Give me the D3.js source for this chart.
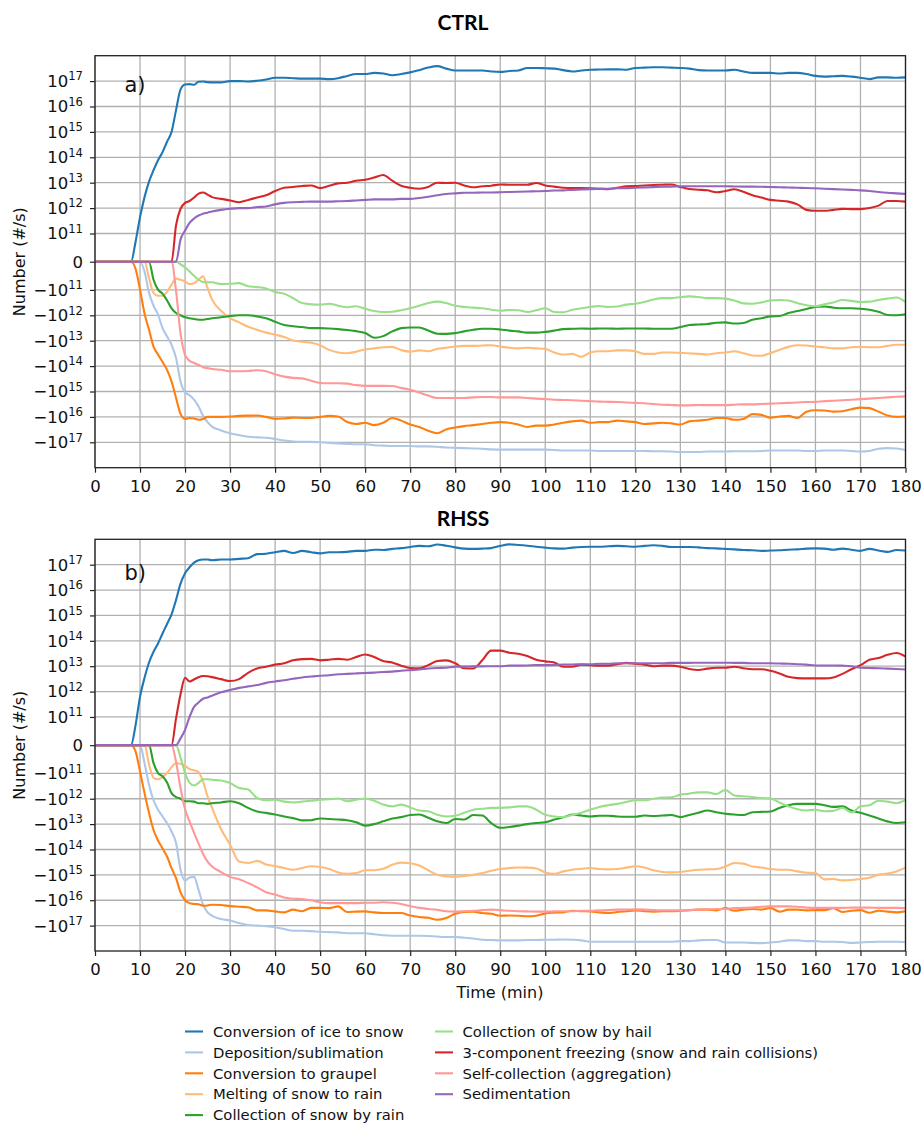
<!DOCTYPE html>
<html>
<head>
<meta charset="utf-8">
<script src="https://cdn.jsdelivr.net/npm/d3@7"></script>
<style>
  html, body { margin: 0; padding: 0; background: #fff; }
  svg { display: block; }
</style>
</head>
<body>
<svg id="chart" width="921" height="1125"></svg>
<script>
// Snow number tendencies (#/s) for the CTRL and RHSS runs, 0-180 min.

const times = [0, 8, 9, 10, 11, 12, 13, 14, 15, 16, 17, 18, 19, 20, 21, 22, 23, 24, 25, 26,
  28, 30, 32, 34, 36, 38, 40, 42, 44, 46, 48, 50, 52, 54, 56, 58, 60, 62, 64, 66, 68, 70, 72, 74, 76, 78, 80,
  82, 84, 86, 88, 90, 92, 94, 96, 98, 100, 102, 104, 106, 108, 110, 112, 114, 116, 118, 120,
  122, 124, 126, 128, 130, 132, 134, 136, 138, 140, 142, 144, 146, 148, 150, 152, 154, 156, 158, 160,
  162, 164, 166, 168, 170, 172, 174, 176, 178, 180];

const seriesNames = [
  "Conversion of ice to snow",
  "Deposition/sublimation",
  "Conversion to graupel",
  "Melting of snow to rain",
  "Collection of snow by rain",
  "Collection of snow by hail",
  "3-component freezing (snow and rain collisions)",
  "Self-collection (aggregation)",
  "Sedimentation"
];

const seriesColors = ["#1f77b4", "#aec7e8", "#ff7f0e", "#ffbb78", "#2ca02c", "#98df8a", "#d62728", "#ff9896", "#9467bd"];

const xTicks = [0, 10, 20, 30, 40, 50, 60, 70, 80, 90, 100, 110, 120, 130, 140, 150, 160, 170, 180];
const yTicks = [1e17, 1e16, 1e15, 1e14, 1e13, 1e12, 1e11, 0, -1e11, -1e12, -1e13, -1e14, -1e15, -1e16, -1e17];

// ---------- CTRL ----------
const ctrlIceToSnow = [0, 0, 7e10, 4.4e11, 2.7e12, 1.1e13, 3.1e13, 7.6e13, 1.6e14, 4.1e14, 1e15, 7.2e15, 4.7e16, 7.4e16, 7.6e16, 7.2e16, 9.4e16, 9.6e16, 9.1e16, 8.9e16,
  8.9e16, 1.0e17, 1.0e17, 9.7e16, 1.03e17, 1.15e17, 1.35e17, 1.35e17, 1.3e17, 1.25e17, 1.25e17, 1.25e17, 1.2e17, 1.3e17, 1.6e17, 1.9e17, 1.9e17, 2.1e17, 2.0e17, 1.7e17, 1.9e17, 2.2e17, 2.7e17, 3.4e17, 3.9e17, 3.1e17, 2.6e17,
  2.6e17, 2.6e17, 2.6e17, 2.4e17, 2.3e17, 2.5e17, 2.6e17, 3.3e17, 3.3e17, 3.2e17,
  3.1e17, 2.7e17, 2.4e17, 2.6e17, 2.8e17, 2.85e17, 2.9e17, 2.9e17, 2.8e17, 3.3e17,
  3.4e17, 3.5e17, 3.5e17, 3.4e17, 3.3e17, 3.1e17, 2.7e17, 2.6e17, 2.6e17, 2.6e17,
  2.8e17, 2.4e17, 2.1e17, 2.1e17, 2.1e17, 2.0e17, 2.1e17, 2.1e17, 1.9e17, 1.6e17,
  1.5e17, 1.55e17, 1.6e17, 1.5e17, 1.35e17, 1.2e17, 1.4e17, 1.4e17, 1.35e17, 1.4e17];

const ctrlDeposition = [0, 0, 0, 0, -3.5e10, -1.3e11, -4.2e11, -9.4e11, -3.2e12, -6.8e12, -1.45e13, -4.8e13, -4.1e14, -1.07e15, -1.4e15, -2.1e15, -3.9e15, -9.1e15, -1.6e16, -2.4e16,
  -3.4e16, -4.4e16, -5.2e16, -6e16, -6.4e16, -6.6e16, -7.4e16, -8.5e16, -9.3e16, -9.6e16, -9.6e16, -1.0e17, -1.05e17, -1.1e17, -1.15e17, -1.2e17, -1.2e17, -1.3e17, -1.35e17, -1.4e17, -1.4e17, -1.4e17, -1.45e17, -1.45e17, -1.5e17, -1.6e17, -1.65e17,
  -1.7e17, -1.75e17, -1.8e17, -1.9e17, -1.95e17, -1.95e17, -1.95e17, -1.95e17, -1.95e17, -1.95e17,
  -2.0e17, -2.1e17, -2.1e17, -2.1e17, -2.1e17, -2.2e17, -2.2e17, -2.2e17, -2.2e17, -2.2e17,
  -2.2e17, -2.25e17, -2.25e17, -2.3e17, -2.4e17, -2.4e17, -2.4e17, -2.3e17, -2.3e17, -2.3e17,
  -2.25e17, -2.25e17, -2.25e17, -2.2e17, -2.1e17, -2.1e17, -2.1e17, -2.1e17, -2.2e17, -2.2e17,
  -2.1e17, -2.1e17, -2.1e17, -2.2e17, -2.3e17, -2.2e17, -1.8e17, -1.7e17, -1.75e17, -2.0e17];

const ctrlGraupel = [0, 0, -2.5e10, -9.9e10, -8.5e11, -3.7e12, -1.7e13, -3.5e13, -6.9e13, -1.4e14, -4e14, -1.8e15, -7.6e15, -1.2e16, -1.1e16, -1.15e16, -1.3e16, -1.2e16, -1.0e16, -1.0e16,
  -1.0e16, -9.7e15, -9.1e15, -8.9e15, -8.8e15, -1.0e16, -1.2e16, -1.15e16, -1.07e16, -1.1e16, -1.1e16, -1.0e16, -9.1e15, -9.7e15, -1.6e16, -1.9e16, -1.7e16, -2.1e16, -1.7e16, -1.1e16, -1.4e16, -2.0e16, -2.5e16, -3.5e16, -4.4e16, -3.1e16, -2.6e16,
  -2.3e16, -2.1e16, -1.9e16, -1.7e16, -1.6e16, -1.7e16, -2.0e16, -2.5e16, -2.2e16, -2.2e16,
  -2.0e16, -1.7e16, -1.5e16, -1.4e16, -1.7e16, -1.6e16, -1.6e16, -1.4e16, -1.5e16, -1.6e16,
  -1.9e16, -1.8e16, -1.7e16, -1.8e16, -2.0e16, -1.5e16, -1.4e16, -1.3e16, -1.1e16, -1.1e16,
  -1.3e16, -1.2e16, -7.8e15, -8.3e15, -1.07e16, -9.7e15, -9.1e15, -1.1e16, -6.2e15, -5.5e15,
  -5.6e15, -6.2e15, -6.0e15, -5.0e15, -4.3e15, -4.5e15, -6.2e15, -8.8e15, -1.0e16, -9.7e15];

const ctrlMelting = [0, 0, 0, 0, 0, -5.8e10, -1.3e11, -1.7e11, -1.7e11, -1.2e11, -8.1e10, -6.0e10, -6.4e10, -7.0e10, -7.9e10, -7.6e10, -6.4e10, -5.2e10, -9.3e10, -2.4e11,
  -6.6e11, -1.3e12, -1.9e12, -2.8e12, -3.7e12, -4.8e12, -5.8e12, -7.2e12, -9.8e12, -1.1e13, -1.2e13, -1.5e13, -2.3e13, -2.9e13, -3.1e13, -2.7e13, -2.2e13, -2.0e13, -1.8e13, -1.75e13, -2.35e13, -2.7e13, -2.4e13, -2.6e13, -2.1e13, -1.9e13, -1.7e13,
  -1.6e13, -1.6e13, -1.55e13, -1.5e13, -1.7e13, -1.9e13, -2.0e13, -1.9e13, -2.0e13, -2.1e13,
  -2.9e13, -3.5e13, -3.3e13, -4.3e13, -2.9e13, -2.6e13, -2.6e13, -2.4e13, -2.4e13, -2.6e13,
  -3.3e13, -3.3e13, -2.9e13, -2.9e13, -3.0e13, -3.1e13, -3.3e13, -3.5e13, -3.1e13, -2.9e13,
  -2.6e13, -3.1e13, -3.8e13, -3.9e13, -3.1e13, -2.3e13, -1.75e13, -1.5e13, -1.55e13, -1.7e13,
  -1.8e13, -2.0e13, -2.0e13, -1.8e13, -1.75e13, -1.8e13, -1.8e13, -1.6e13, -1.45e13, -1.45e13];

const ctrlRainCollection = [0, 0, 0, 0, 0, 0, -6.4e10, -9.9e10, -1.4e11, -2.6e11, -5.3e11, -8.1e11, -1.0e12, -1.2e12, -1.3e12, -1.4e12, -1.5e12, -1.5e12, -1.4e12, -1.3e12,
  -1.2e12, -1.07e12, -1.0e12, -1.0e12, -1.1e12, -1.3e12, -1.8e12, -2.4e12, -2.7e12, -2.9e12, -3.2e12, -3.2e12, -3.3e12, -3.5e12, -3.8e12, -4.2e12, -5e12, -7.6e12, -6.6e12, -4.3e12, -3.2e12, -3.0e12, -3.0e12, -4.0e12, -5.3e12, -5.4e12, -5.0e12,
  -4.3e12, -3.7e12, -3.4e12, -3.4e12, -3.6e12, -4.0e12, -4.3e12, -4.8e12, -4.8e12, -4.5e12,
  -4.0e12, -3.5e12, -3.4e12, -3.3e12, -3.4e12, -3.3e12, -3.3e12, -3.4e12, -3.3e12, -3.3e12,
  -3.3e12, -3.4e12, -3.4e12, -3.4e12, -2.9e12, -2.4e12, -2.3e12, -2.2e12, -1.95e12, -1.9e12,
  -2.1e12, -2.0e12, -1.5e12, -1.3e12, -1.1e12, -1.07e12, -8.1e11, -6.8e11, -5.6e11, -4.7e11,
  -4.5e11, -5.0e11, -5.3e11, -5.3e11, -5.5e11, -6e11, -7.2e11, -9.7e11, -1.0e12, -9.1e11];

const ctrlHailCollection = [0, 0, 0, 0, 0, 0, 0, 0, 0, 0, 0, 0, -9e9, -2e10, -3.5e10, -5e10, -6.4e10, -7.2e10, -7.3e10, -7.3e10,
  -7.9e10, -7.8e10, -7.6e10, -8.7e10, -9e10, -9.5e10, -1.2e11, -1.4e11, -2.1e11, -3.3e11, -3.7e11, -3.8e11, -3.5e11, -4.2e11, -4.8e11, -4.4e11, -5.5e11, -6.8e11, -7.4e11, -7.2e11, -6.3e11, -5.3e11, -4.2e11, -3.3e11, -2.9e11, -3.3e11, -4.2e11,
  -4.7e11, -5.0e11, -5.3e11, -6e11, -6.6e11, -6.2e11, -6.3e11, -7.4e11, -6.3e11, -5.3e11,
  -7.4e11, -7.6e11, -6e11, -5.3e11, -4.7e11, -4.3e11, -4.7e11, -4.5e11, -3.8e11, -3.5e11,
  -3.0e11, -2.4e11, -2.1e11, -2.1e11, -1.9e11, -1.8e11, -1.9e11, -2.1e11, -2.1e11, -2.2e11,
  -2.6e11, -3.4e11, -3.5e11, -3.1e11, -2.6e11, -2.5e11, -2.6e11, -3.3e11, -4.0e11, -4.4e11,
  -3.7e11, -3.1e11, -2.5e11, -2.7e11, -3.0e11, -2.9e11, -2.5e11, -2.2e11, -2.0e11, -3.0e11];

const ctrlFreezing = [0, 0, 0, 0, 0, 0, 0, 0, 0, 0, 0, 2.1e11, 9.4e11, 1.6e12, 1.9e12, 2.6e12, 3.7e12, 4.1e12, 3.4e12, 2.7e12,
  2.3e12, 2.0e12, 1.7e12, 2.1e12, 2.6e12, 3.2e12, 4.7e12, 6.3e12, 6.8e12, 7.4e12, 7.8e12, 6.1e12, 7.6e12, 9.4e12, 1.0e13, 1.2e13, 1.3e13, 1.6e13, 2.0e13, 1.2e13, 7.6e12, 6.3e12, 5.8e12, 6.8e12, 1.0e13, 9.7e12, 1.0e13,
  7.8e12, 6.6e12, 7.2e12, 7.6e12, 8.5e12, 8.3e12, 8.3e12, 8.3e12, 9.7e12, 7.8e12,
  7.0e12, 6.3e12, 6.1e12, 6.1e12, 6.0e12, 5.8e12, 5.6e12, 6.3e12, 7.2e12, 7.4e12,
  7.8e12, 8.1e12, 8.3e12, 8.5e12, 6.8e12, 5.6e12, 5.3e12, 5.0e12, 4.2e12, 4.7e12,
  5.5e12, 4.4e12, 3.2e12, 2.6e12, 2.1e12, 1.95e12, 1.8e12, 1.4e12, 8.5e11, 7.8e11,
  7.8e11, 8.5e11, 9.3e11, 9.1e11, 9.1e11, 1.0e12, 1.25e12, 1.9e12, 1.9e12, 1.8e12];

const ctrlAggregation = [0, 0, 0, 0, 0, 0, 0, 0, 0, 0, 0, -1.1e11, -5.3e12, -3.6e13, -6.2e13, -7.6e13, -8.9e13, -1.1e14, -1.2e14, -1.3e14,
  -1.4e14, -1.6e14, -1.6e14, -1.55e14, -1.45e14, -1.6e14, -2.1e14, -2.6e14, -2.9e14, -3.05e14, -3.8e14, -4.6e14, -4.7e14, -4.7e14, -4.9e14, -5.6e14, -6e14, -6e14, -6e14, -6.1e14, -7.2e14, -8.6e14, -1.1e15, -1.45e15, -1.8e15, -1.8e15, -1.8e15,
  -1.8e15, -1.7e15, -1.65e15, -1.65e15, -1.7e15, -1.7e15, -1.7e15, -1.8e15, -1.9e15, -2.0e15,
  -2.1e15, -2.15e15, -2.2e15, -2.3e15, -2.4e15, -2.5e15, -2.55e15, -2.6e15, -2.7e15, -2.8e15,
  -2.9e15, -3.1e15, -3.3e15, -3.4e15, -3.5e15, -3.5e15, -3.4e15, -3.45e15, -3.45e15, -3.45e15,
  -3.3e15, -3.2e15, -3.2e15, -3.1e15, -3.0e15, -2.9e15, -2.8e15, -2.7e15, -2.6e15, -2.55e15,
  -2.4e15, -2.3e15, -2.2e15, -2.1e15, -2.0e15, -1.9e15, -1.8e15, -1.7e15, -1.6e15, -1.55e15];

const ctrlSedimentation = [0, 0, 0, 0, 0, 0, 0, 0, 0, 0, 0, 0, 7.9e10, 1.3e11, 2.6e11, 3.9e11, 5.1e11, 6.0e11, 6.6e11, 7.4e11,
  8.5e11, 9.4e11, 1.0e12, 1.0e12, 1.1e12, 1.15e12, 1.4e12, 1.6e12, 1.7e12, 1.75e12, 1.8e12, 1.8e12, 1.8e12, 1.85e12, 1.9e12, 2.0e12, 2.1e12, 2.2e12, 2.2e12, 2.2e12, 2.3e12, 2.3e12, 2.5e12, 2.8e12, 3.2e12, 3.6e12, 3.8e12,
  4.0e12, 4.0e12, 4.1e12, 4.1e12, 4.2e12, 4.3e12, 4.4e12, 4.5e12, 4.6e12, 4.7e12,
  4.9e12, 5.0e12, 5.2e12, 5.4e12, 5.6e12, 5.7e12, 5.8e12, 6.0e12, 6.1e12, 6.3e12,
  6.5e12, 6.7e12, 6.9e12, 7.0e12, 7.2e12, 7.2e12, 7.2e12, 7.2e12, 7.2e12, 7.2e12,
  7.1e12, 7.0e12, 7.0e12, 6.9e12, 6.8e12, 6.6e12, 6.5e12, 6.3e12, 6.2e12, 6.0e12,
  5.8e12, 5.6e12, 5.4e12, 5.2e12, 5.0e12, 4.7e12, 4.3e12, 4.0e12, 3.8e12, 3.6e12];

// ---------- RHSS ----------
const rhssIceToSnow = [0, 0, 7e10, 6.3e11, 3.5e12, 1.4e13, 3.7e13, 7.9e13, 1.95e14, 4.6e14, 1.1e15, 4.1e15, 1.8e16, 4.6e16, 7.9e16, 1.2e17, 1.5e17, 1.6e17, 1.6e17, 1.5e17,
  1.6e17, 1.6e17, 1.7e17, 1.8e17, 2.6e17, 2.7e17, 3.1e17, 3.5e17, 2.9e17, 3.5e17, 3.1e17, 2.8e17, 3.1e17, 3.1e17, 3.2e17, 3.5e17, 3.5e17, 3.9e17, 3.8e17, 4.2e17, 4.5e17, 5e17, 5.5e17, 5.3e17, 6.2e17, 5.6e17, 4.8e17,
  4.3e17, 4.2e17, 4.3e17, 4.5e17, 5.5e17, 6.3e17, 6.0e17, 5.6e17, 5.1e17, 4.7e17,
  4.4e17, 4.3e17, 4.7e17, 5.0e17, 5.1e17, 5.1e17, 5.3e17, 5.5e17, 5.3e17, 5.1e17,
  5.5e17, 5.8e17, 5.5e17, 5.0e17, 5.0e17, 5.0e17, 4.8e17, 4.5e17, 4.4e17, 4.2e17,
  4.0e17, 3.8e17, 3.7e17, 3.5e17, 3.6e17, 3.7e17, 3.9e17, 4.0e17, 4.3e17, 4.4e17,
  4.3e17, 3.9e17, 4.3e17, 3.9e17, 3.5e17, 4.2e17, 3.6e17, 3.2e17, 3.8e17, 3.6e17];

const rhssDeposition = [0, 0, 0, 0, -6.4e10, -2.8e11, -1.15e12, -2.7e12, -5e12, -9.1e12, -1.95e13, -5.6e13, -6.3e14, -1.7e15, -1.26e15, -1.2e15, -3.9e15, -1.5e16, -3e16, -4.1e16,
  -5.5e16, -6.3e16, -7.9e16, -9.5e16, -1.0e17, -1.05e17, -1.15e17, -1.37e17, -1.6e17, -1.6e17, -1.65e17, -1.75e17, -1.8e17, -1.85e17, -2.0e17, -2.0e17, -2.0e17, -2.2e17, -2.4e17, -2.5e17, -2.5e17, -2.5e17, -2.5e17, -2.55e17, -2.7e17, -2.8e17, -2.8e17,
  -3.0e17, -3.2e17, -3.6e17, -3.7e17, -3.8e17, -3.8e17, -3.8e17, -3.7e17, -3.7e17, -3.6e17,
  -3.6e17, -3.5e17, -3.6e17, -3.8e17, -4.3e17, -4.3e17, -4.3e17, -4.3e17, -4.3e17, -4.3e17,
  -4.3e17, -4.3e17, -4.3e17, -4.3e17, -4.1e17, -4.1e17, -3.8e17, -3.7e17, -3.7e17, -4.6e17,
  -4.6e17, -4.6e17, -4.8e17, -4.9e17, -4.6e17, -4.3e17, -3.8e17, -3.8e17, -4.1e17, -4.1e17,
  -4.3e17, -4.3e17, -4.4e17, -4.8e17, -4.6e17, -4.4e17, -4.3e17, -4.3e17, -4.3e17, -4.4e17];

const rhssGraupel = [0, 0, -2.2e10, -9.3e10, -6e11, -3.6e12, -1.7e13, -4.4e13, -9.1e13, -1.9e14, -5.4e14, -1.35e15, -4.9e15, -1.0e16, -1.3e16, -1.4e16, -1.45e16, -1.65e16, -1.6e16, -1.5e16,
  -1.55e16, -1.7e16, -1.8e16, -1.9e16, -2.5e16, -2.5e16, -2.75e16, -3.0e16, -2.35e16, -2.7e16, -2.0e16, -2.0e16, -2.05e16, -1.75e16, -2.9e16, -2.8e16, -2.75e16, -3.0e16, -3.2e16, -3.2e16, -3.2e16, -4.0e16, -4.6e16, -4.9e16, -5.9e16, -5.0e16, -3.4e16,
  -2.9e16, -2.8e16, -3.2e16, -3.4e16, -4.1e16, -4.0e16, -4.1e16, -4.3e16, -4.1e16, -3.3e16,
  -3.1e16, -3.0e16, -2.6e16, -2.7e16, -2.75e16, -3.0e16, -3.2e16, -2.9e16, -2.7e16, -2.5e16,
  -2.7e16, -2.8e16, -2.7e16, -2.7e16, -2.6e16, -2.45e16, -2.35e16, -2.35e16, -2.5e16, -2.05e16,
  -2.6e16, -2.35e16, -2.2e16, -2.35e16, -2.0e16, -2.8e16, -2.35e16, -2.35e16, -2.5e16, -2.45e16,
  -2.45e16, -2.05e16, -2.9e16, -2.6e16, -2.45e16, -3.1e16, -2.6e16, -2.8e16, -3.0e16, -2.7e16];

const rhssMelting = [0, 0, 0, 0, 0, -6.9e10, -1.5e11, -1.7e11, -1.4e11, -9.9e10, -7.8e10, -6.4e10, -6.6e10, -7.3e10, -8.5e10, -8.9e10, -9.6e10, -2.1e11, -8.1e11, -2.3e12,
  -1.6e13, -6.5e13, -3e14, -3.4e14, -2.8e14, -3.9e14, -4.5e14, -5.4e14, -6.3e14, -5.4e14, -4.6e14, -4.9e14, -5.9e14, -8e14, -9e14, -8.5e14, -6.6e14, -6.6e14, -5.8e14, -4e14, -3.3e14, -3.5e14, -4.3e14, -6.6e14, -9.8e14, -1.15e15, -1.2e15,
  -1.1e15, -1.0e15, -8.5e14, -6.9e14, -5.9e14, -5.4e14, -5.1e14, -5.2e14, -5.6e14, -8e14,
  -9e14, -7.3e14, -6.3e14, -5.8e14, -5.4e14, -5.9e14, -6.1e14, -5.9e14, -5.2e14, -4.6e14,
  -5.1e14, -6.6e14, -7.7e14, -8e14, -7.7e14, -6.9e14, -6.3e14, -6.1e14, -5.9e14, -4.7e14,
  -3.4e14, -3.6e14, -4.7e14, -5.1e14, -5.9e14, -6.3e14, -6.3e14, -7.3e14, -8.2e14, -8.5e14,
  -1.5e15, -1.45e15, -1.65e15, -1.6e15, -1.45e15, -1.3e15, -9.8e14, -8.8e14, -7.3e14, -5.2e14];

const rhssRainCollection = [0, 0, 0, 0, 0, 0, -6.4e10, -9.9e10, -1.3e11, -2.3e11, -6e11, -8.6e11, -1.0e12, -1.25e12, -1.25e12, -1.3e12, -1.5e12, -1.5e12, -1.6e12, -1.5e12,
  -1.4e12, -1.25e12, -1.5e12, -2.3e12, -3.2e12, -3.6e12, -4.2e12, -5e12, -5.8e12, -7.1e12, -7.0e12, -6e12, -6.3e12, -6.6e12, -7.0e12, -8.5e12, -1.15e13, -1.0e13, -7.8e12, -6e12, -5.3e12, -4.4e12, -4.2e12, -5.6e12, -7.8e12, -9.1e12, -6.3e12,
  -6.6e12, -4.4e12, -4.6e12, -9.1e12, -1.4e13, -1.3e13, -1.15e13, -1.0e13, -9.1e12, -8.5e12,
  -6.6e12, -5.4e12, -4.2e12, -4.6e12, -5e12, -4.7e12, -4.7e12, -5e12, -5.1e12, -5.1e12,
  -4.6e12, -4.8e12, -4.6e12, -4.4e12, -5.3e12, -4.4e12, -3.6e12, -2.9e12, -3.4e12, -3.9e12,
  -4.2e12, -4.4e12, -3.4e12, -3.3e12, -3.2e12, -2.3e12, -1.8e12, -1.6e12, -1.6e12, -1.6e12,
  -1.8e12, -2.1e12, -2.0e12, -2.9e12, -3.6e12, -4.6e12, -6e12, -7.8e12, -9.1e12, -8.5e12];

const rhssHailCollection = [0, 0, 0, 0, 0, 0, 0, 0, 0, 0, 0, 0, -4.4e10, -9.9e10, -2.3e11, -3.0e11, -2.4e11, -1.7e11, -1.7e11, -1.8e11,
  -1.9e11, -2.4e11, -3.8e11, -4.3e11, -9.4e11, -1.15e12, -1.1e12, -1.3e12, -1.4e12, -1.3e12, -1.2e12, -1.1e12, -1.05e12, -9.8e11, -1.25e12, -1.1e12, -9.8e11, -1.2e12, -1.7e12, -2.0e12, -1.7e12, -2.2e12, -2.9e12, -3.1e12, -4.3e12, -5e12, -4.7e12,
  -3.6e12, -2.7e12, -2.5e12, -2.3e12, -2.3e12, -2.2e12, -2.0e12, -2.0e12, -2.7e12, -4.3e12,
  -5e12, -5.3e12, -4.4e12, -3.6e12, -2.7e12, -2.1e12, -1.8e12, -1.6e12, -1.35e12, -1.15e12,
  -1.15e12, -1.0e12, -9e11, -8.8e11, -6.9e11, -6.3e11, -5.6e11, -5.6e11, -6.5e11, -4.5e11,
  -7.4e11, -8e11, -8.5e11, -9.4e11, -9.7e11, -1.4e12, -2.0e12, -2.6e12, -2.9e12, -2.7e12,
  -3.1e12, -3.0e12, -2.3e12, -3.5e12, -2.0e12, -1.8e12, -1.2e12, -1.3e12, -1.5e12, -1.1e12];

const rhssFreezing = [0, 0, 0, 0, 0, 0, 0, 0, 0, 0, 0, 9.5e10, 7.9e11, 3.5e12, 2.5e12, 3.0e12, 3.7e12, 4.1e12, 4.0e12, 3.7e12,
  3.1e12, 2.6e12, 3.1e12, 5.5e12, 8.1e12, 9.5e12, 1.15e13, 1.3e13, 1.7e13, 1.9e13, 1.95e13, 1.7e13, 1.8e13, 1.95e13, 1.8e13, 2.3e13, 2.9e13, 2.3e13, 1.6e13, 1.4e13, 1.05e13, 8.5e12, 8.3e12, 1.1e13, 1.6e13, 1.7e13, 1.3e13,
  8.3e12, 8.1e12, 1.7e13, 4.1e13, 4.1e13, 3.4e13, 3.1e13, 2.5e13, 1.8e13, 1.55e13,
  1.4e13, 9.5e12, 9.5e12, 1.15e13, 1.1e13, 1.05e13, 1.05e13, 1.2e13, 1.35e13, 1.25e13,
  1.15e13, 1.0e13, 1.05e13, 1.05e13, 9.5e12, 7.8e12, 7.1e12, 8e12, 8.7e12, 8.7e12,
  9.5e12, 8.3e12, 7.6e12, 7.6e12, 6.6e12, 5.2e12, 3.8e12, 3.4e12, 3.3e12, 3.3e12,
  3.3e12, 3.6e12, 5.0e12, 7.6e12, 1.1e13, 1.8e13, 2.1e13, 2.8e13, 3.3e13, 2.4e13];

const rhssAggregation = [0, 0, 0, 0, 0, 0, 0, 0, 0, 0, 0, -5.9e10, -3.8e11, -2.6e12, -7.8e12, -2.2e13, -5.9e13, -1.5e14, -3e14, -4.7e14,
  -7.8e14, -1.2e15, -1.5e15, -2.1e15, -3.1e15, -4.8e15, -6e15, -7.8e15, -8.7e15, -8.9e15, -1.0e16, -1.2e16, -1.3e16, -1.3e16, -1.3e16, -1.3e16, -1.25e16, -1.25e16, -1.2e16, -1.25e16, -1.4e16, -1.7e16, -2.0e16, -2.2e16, -2.4e16, -2.7e16, -2.8e16,
  -2.7e16, -2.6e16, -2.45e16, -2.35e16, -2.45e16, -2.6e16, -2.7e16, -2.75e16, -2.8e16, -2.8e16,
  -2.75e16, -2.7e16, -2.7e16, -2.6e16, -2.6e16, -2.5e16, -2.45e16, -2.35e16, -2.35e16, -2.3e16,
  -2.35e16, -2.45e16, -2.5e16, -2.5e16, -2.5e16, -2.45e16, -2.35e16, -2.3e16, -2.2e16, -2.2e16,
  -2.05e16, -2.0e16, -1.95e16, -1.8e16, -1.75e16, -1.75e16, -1.75e16, -1.8e16, -1.95e16, -2.0e16,
  -2.0e16, -2.0e16, -2.0e16, -1.95e16, -1.95e16, -1.95e16, -2.0e16, -2.0e16, -2.0e16, -2.05e16];

const rhssSedimentation = [0, 0, 0, 0, 0, 0, 0, 0, 0, 0, 0, 0, 2.4e10, 5.4e10, 1.0e11, 2.5e11, 3.7e11, 5.2e11, 5.9e11, 6.9e11,
  9.3e11, 1.15e12, 1.4e12, 1.6e12, 1.8e12, 2.2e12, 2.5e12, 2.8e12, 3.2e12, 3.6e12, 3.9e12, 4.2e12, 4.4e12, 4.8e12, 5.0e12, 5.2e12, 5.4e12, 5.6e12, 5.9e12, 6.1e12, 6.6e12, 7.0e12, 7.4e12, 8.1e12, 8.5e12, 8.7e12, 9.6e12,
  9.6e12, 9.8e12, 9.8e12, 1.0e13, 1.0e13, 1.05e13, 1.05e13, 1.07e13, 1.1e13, 1.1e13,
  1.12e13, 1.17e13, 1.17e13, 1.2e13, 1.2e13, 1.25e13, 1.25e13, 1.3e13, 1.3e13, 1.3e13,
  1.3e13, 1.3e13, 1.3e13, 1.35e13, 1.35e13, 1.35e13, 1.37e13, 1.37e13, 1.37e13, 1.37e13,
  1.35e13, 1.35e13, 1.3e13, 1.3e13, 1.3e13, 1.27e13, 1.25e13, 1.2e13, 1.15e13, 1.07e13,
  1.07e13, 1.07e13, 1.05e13, 1.0e13, 8.7e12, 8.5e12, 8.3e12, 8e12, 7.7e12, 7.4e12];

const ctrlSeries = [ctrlIceToSnow, ctrlDeposition, ctrlGraupel, ctrlMelting, ctrlRainCollection,
  ctrlHailCollection, ctrlFreezing, ctrlAggregation, ctrlSedimentation];
const rhssSeries = [rhssIceToSnow, rhssDeposition, rhssGraupel, rhssMelting, rhssRainCollection,
  rhssHailCollection, rhssFreezing, rhssAggregation, rhssSedimentation];

// ---------- drawing ----------
const svg = d3.select("#chart");
const W = 921, H = 1125;
const FONT = "'DejaVu Sans', sans-serif";
svg.append("rect").attr("width", W).attr("height", H).attr("fill", "#fff");

// Symmetric log: linear inside +-1e11, log10 outside; the linear band spans 1/(1-1/10) decades.
const LIN_THRESH = 1e11;
const LIN_UNITS = 1 / (1 - 1 / 10);
function symlogUnits(v) {
  const a = Math.abs(v);
  if (a <= LIN_THRESH) return (v / LIN_THRESH) * LIN_UNITS;
  return Math.sign(v) * (LIN_UNITS + Math.log10(a / LIN_THRESH));
}
const Y_MAX = 1e18;
// Wrap a linear scale so d3.axis can use it with the symlog transform.
function symlogScale(lin) {
  const s = v => lin(symlogUnits(v));
  s.domain = () => [-Y_MAX, Y_MAX];
  s.range = () => lin.range();
  s.copy = () => symlogScale(lin.copy());
  return s;
}

const x = d3.scaleLinear().domain([0, 180]).range([95, 905.5]);

const panels = [
  { title: "CTRL", tag: "a)", top: 55.7, bottom: 467.7, titleY: 30, series: ctrlSeries },
  { title: "RHSS", tag: "b)", top: 539.3, bottom: 951, titleY: 526, series: rhssSeries }
];

const defs = svg.append("defs");

panels.forEach((p, pi) => {
  const U = symlogUnits(Y_MAX);
  const yLin = d3.scaleLinear().domain([-U, U]).range([p.bottom, p.top]);
  const y = symlogScale(yLin);
  const g = svg.append("g");

  // grid
  const grid = g.append("g").attr("stroke", "#b0b0b0").attr("stroke-width", 1.3);
  xTicks.forEach(t => grid.append("line")
    .attr("x1", x(t)).attr("x2", x(t)).attr("y1", p.top).attr("y2", p.bottom));
  yTicks.forEach(v => grid.append("line")
    .attr("x1", x(0)).attr("x2", x(180)).attr("y1", y(v)).attr("y2", y(v)));

  // series
  const clipId = "clip" + pi;
  defs.append("clipPath").attr("id", clipId).append("rect")
    .attr("x", x(0)).attr("y", p.top).attr("width", x(180) - x(0)).attr("height", p.bottom - p.top);
  const line = d3.line()
    .x((d, i) => x(times[i]))
    .y(d => y(d))
    .curve(d3.curveMonotoneX);
  const lines = g.append("g").attr("clip-path", `url(#${clipId})`);
  p.series.forEach((vals, si) => {
    lines.append("path")
      .attr("d", line(vals))
      .attr("fill", "none")
      .attr("stroke", seriesColors[si])
      .attr("stroke-width", 2.1)
      .attr("stroke-linejoin", "round")
      .attr("stroke-linecap", "round");
  });

  // frame
  g.append("rect")
    .attr("x", x(0)).attr("y", p.top)
    .attr("width", x(180) - x(0)).attr("height", p.bottom - p.top)
    .attr("fill", "none").attr("stroke", "#222").attr("stroke-width", 1.3);

  // x axis
  const xAxis = g.append("g")
    .attr("transform", `translate(0,${p.bottom})`)
    .call(d3.axisBottom(x).tickValues(xTicks).tickSize(5).tickPadding(7.5).tickFormat(d3.format("d")));
  xAxis.select(".domain").remove();
  xAxis.selectAll(".tick line").attr("stroke", "#222").attr("stroke-width", 1.2);
  xAxis.selectAll(".tick text").attr("font-family", FONT).attr("font-size", 16.5).attr("fill", "#111");

  // y axis
  const yAxis = g.append("g")
    .attr("transform", `translate(${x(0)},0)`)
    .call(d3.axisLeft(y).tickValues(yTicks).tickSize(5).tickFormat(() => ""));
  yAxis.select(".domain").remove();
  yAxis.selectAll(".tick line").attr("stroke", "#222").attr("stroke-width", 1.2);
  yAxis.selectAll(".tick text").each(function (d) {
    const t = d3.select(this)
      .attr("x", -12).attr("dy", null)
      .attr("text-anchor", "end")
      .attr("font-family", FONT).attr("font-size", 16.5).attr("fill", "#111");
    t.text(null);
    if (d === 0) {
      t.attr("y", 5.6).text("0");
      return;
    }
    const exp = Math.round(Math.log10(Math.abs(d)));
    t.attr("y", 5.4);
    t.append("tspan").text((d < 0 ? "\u2212" : "") + "10");
    t.append("tspan").attr("dy", -6.6).attr("font-size", 11.6).text(exp);
  });

  // y label
  svg.append("text")
    .attr("transform", `translate(24.5,${(p.top + p.bottom) / 2}) rotate(-90)`)
    .attr("text-anchor", "middle")
    .attr("font-family", FONT).attr("font-size", 16).attr("fill", "#111")
    .text("Number (#/s)");

  // panel tag
  svg.append("text")
    .attr("x", 124.5).attr("y", p.top + (pi === 0 ? 35.8 : 40.7))
    .attr("font-family", FONT).attr("font-size", 21).attr("fill", "#111")
    .text(p.tag);

  // title
  svg.append("text")
    .attr("x", 463).attr("y", p.titleY)
    .attr("text-anchor", "middle")
    .attr("font-family", "Lato, 'Open Sans', sans-serif").attr("font-weight", 700)
    .attr("font-size", 21).attr("fill", "#000")
    .text(p.title);
});

// x label
svg.append("text")
  .attr("x", 500).attr("y", 998)
  .attr("text-anchor", "middle")
  .attr("font-family", FONT).attr("font-size", 16).attr("fill", "#111")
  .text("Time (min)");

// legend: two columns
const legend = svg.append("g");
const legendCols = [{ lx: 185, tx: 213 }, { lx: 435, tx: 462.5 }];
seriesNames.forEach((name, i) => {
  const col = i < 5 ? 0 : 1;
  const row = i < 5 ? i : i - 5;
  const cy = 1031.5 + row * 20.9;
  const c = legendCols[col];
  legend.append("line")
    .attr("x1", c.lx).attr("x2", c.lx + 18)
    .attr("y1", cy).attr("y2", cy)
    .attr("stroke", seriesColors[i]).attr("stroke-width", 2.1);
  legend.append("text")
    .attr("x", c.tx).attr("y", cy + 5.2)
    .attr("font-family", FONT).attr("font-size", 14.8).attr("fill", "#111")
    .text(name);
});
</script>
</body>
</html>
